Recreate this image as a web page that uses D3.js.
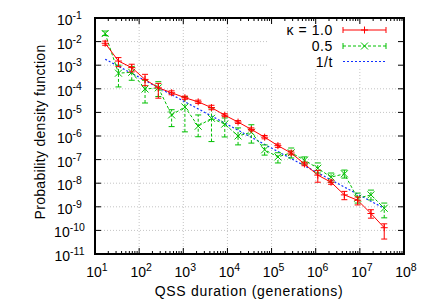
<!DOCTYPE html>
<html>
<head>
<meta charset="utf-8">
<script src="https://cdn.jsdelivr.net/npm/d3@7"></script>
<style>
body { margin: 0; background: #fff; }
text { font-family: "Liberation Sans", Arial, sans-serif; fill: #000; }
</style>
</head>
<body>
<script>
// bin centres (generations)
var times = [17, 34, 68, 136, 272, 544, 1088, 2176, 4352, 8704, 17408, 34816,
  69632, 139264, 278528, 557056, 1114112, 2228224, 4456448, 8912896, 17825792, 35651584];

// kappa = 1.0
var k1 = [8.5e-3, 1.5e-3, 7.9e-4, 2.5e-4, 1.1e-4, 6.8e-5, 4.2e-5, 2.8e-5, 1.6e-5, 7.6e-6, 3.9e-6, 1.9e-6,
  8.9e-7, 3.9e-7, 1.9e-7, 6.5e-8, 2.2e-8, 1.1e-8, 3.2e-9, 1.9e-9, 5.2e-10, 1.3e-10];
var k1Lo = [7.0e-3, 8.7e-4, 5.2e-4, 1.35e-4, 4e-5, 5.6e-5, 3.6e-5, 2.4e-5, 1.3e-5, 6.6e-6, 3.4e-6, 1.65e-6,
  7.6e-7, 3.3e-7, 1.6e-7, 5.5e-8, 1.1e-8, 9e-9, 2.0e-9, 1.2e-9, 3.3e-10, 4.3e-11];
var k1Hi = [1.05e-2, 2.1e-3, 1.1e-3, 4.1e-4, 1.7e-4, 8.2e-5, 4.9e-5, 3.3e-5, 2.0e-5, 8.8e-6, 4.5e-6, 2.2e-6,
  1.05e-6, 4.6e-7, 2.3e-7, 7.7e-8, 3.5e-8, 1.35e-8, 4.5e-9, 2.6e-9, 7.5e-10, 1.9e-10];

// kappa = 0.5
var k05 = [2.2e-2, 4.6e-4, 5e-4, 9.8e-5, 1.1e-4, 7.8e-6, 1.7e-5, 2.6e-6, 5.6e-6, 3.2e-6, 1e-6, 1.45e-6,
  2.6e-7, 1.3e-7, 1.95e-7, 9.5e-8, 4.3e-8, 1.8e-8, 2.5e-8, 2.3e-9, 3.2e-9, 8.7e-10];
var k05Lo = [1.8e-2, 1.2e-4, 2.3e-4, 2.5e-5, 4.7e-5, 2.5e-6, 1.5e-6, 9.3e-7, 5.8e-7, 9.1e-7, 4.2e-7, 5e-7,
  1.55e-7, 7.2e-8, 1.17e-7, 6.5e-8, 2.7e-8, 1.1e-8, 1.65e-8, 1.44e-9, 1.95e-9, 3.4e-10];
var k05Hi = [2.8e-2, 1.0e-3, 8.7e-4, 2.3e-4, 2e-4, 1.3e-5, 4.7e-5, 7.8e-6, 1.55e-5, 5.8e-6, 2.2e-6, 3e-6,
  4.2e-7, 1.95e-7, 3.1e-7, 1.3e-7, 7.2e-8, 2.7e-8, 3.6e-8, 3.8e-9, 5.1e-9, 1.44e-9];

// 1/t guide, end points
var guideT = [17, 35651584];
var guideY = [1.8e-3, 8.6e-10];

var xTicks = [1e1, 1e2, 1e3, 1e4, 1e5, 1e6, 1e7, 1e8];
var xTickExp = ["1", "2", "3", "4", "5", "6", "7", "8"];
var yTicks = [1e-1, 1e-2, 1e-3, 1e-4, 1e-5, 1e-6, 1e-7, 1e-8, 1e-9, 1e-10, 1e-11];
var yTickExp = ["-1", "-2", "-3", "-4", "-5", "-6", "-7", "-8", "-9", "-10", "-11"];
var legendLabels = ["\u03ba = 1.0", "0.5", "1/t"];

var W = 436, H = 305;
var m = {left: 95, right: 32, top: 18, bottom: 51};

var svg = d3.select('body').append('svg')
    .attr('width', W)
    .attr('height', H);

var x = d3.scaleLog().domain([1e1, 1e8]).range([m.left, W - m.right]);
var y = d3.scaleLog().domain([1e-11, 1e-1]).range([H - m.bottom, m.top]);

var red = '#ff0000', green = '#00c000', blue = '#1030ff';

// grid
var grid = svg.append('g');
xTicks.slice(1, -1).forEach(function(t){
    grid.append('line')
        .attr('x1', x(t)).attr('x2', x(t))
        .attr('y1', y.range()[1]).attr('y2', y.range()[0])
        .attr('stroke', '#c4c4c4').attr('stroke-width', 1)
        .attr('stroke-dasharray', '1,2');
});
yTicks.slice(1, -1).forEach(function(t){
    grid.append('line')
        .attr('x1', x.range()[0]).attr('x2', x.range()[1])
        .attr('y1', y(t)).attr('y2', y(t))
        .attr('stroke', '#c4c4c4').attr('stroke-width', 1)
        .attr('stroke-dasharray', '1,2');
});

// opaque key box
svg.append('rect')
    .attr('x', 268).attr('y', m.top)
    .attr('width', x.range()[1] - 268).attr('height', 50)
    .attr('fill', '#fff');

var line = d3.line()
    .x(function(d){ return x(d[0]); })
    .y(function(d){ return y(d[1]); });

// 1/t
svg.append('path')
    .datum(d3.zip(guideT, guideY))
    .attr('d', line)
    .attr('fill', 'none')
    .attr('stroke', blue)
    .attr('stroke-width', 1.2)
    .attr('stroke-dasharray', '2,2');

function series(vals, lo, hi, col, dash, marker){
    var g = svg.append('g');
    g.append('path')
        .datum(d3.zip(times, vals))
        .attr('d', line)
        .attr('fill', 'none')
        .attr('stroke', col)
        .attr('stroke-width', 1)
        .attr('stroke-dasharray', dash);
    times.forEach(function(t, i){
        var cx = x(t);
        g.append('line')
            .attr('x1', cx).attr('x2', cx)
            .attr('y1', y(lo[i])).attr('y2', y(hi[i]))
            .attr('stroke', col).attr('stroke-dasharray', dash);
        [lo[i], hi[i]].forEach(function(v){
            g.append('line')
                .attr('x1', cx - 3).attr('x2', cx + 3)
                .attr('y1', y(v)).attr('y2', y(v))
                .attr('stroke', col);
        });
        marker(g, cx, y(vals[i]), col);
    });
}

function plus(g, cx, cy, col){
    g.append('path')
        .attr('d', 'M' + (cx - 3.5) + ',' + cy + 'H' + (cx + 3.5) + 'M' + cx + ',' + (cy - 3.5) + 'V' + (cy + 3.5))
        .attr('stroke', col).attr('stroke-width', 1);
}
function cross(g, cx, cy, col){
    var r = 3.5;
    g.append('path')
        .attr('d', 'M' + (cx - r) + ',' + (cy - r) + 'L' + (cx + r) + ',' + (cy + r) +
            'M' + (cx - r) + ',' + (cy + r) + 'L' + (cx + r) + ',' + (cy - r))
        .attr('stroke', col).attr('stroke-width', 1);
}

series(k05, k05Lo, k05Hi, green, '3,2', cross);
series(k1, k1Lo, k1Hi, red, null, plus);

// frame
svg.append('rect')
    .attr('x', m.left).attr('y', m.top)
    .attr('width', x.range()[1] - m.left)
    .attr('height', y.range()[0] - m.top)
    .attr('fill', 'none')
    .attr('stroke', '#000')
    .attr('stroke-width', 2);

// ticks on all four sides
var ticks = svg.append('g').attr('stroke', '#000').attr('stroke-width', 1);
var yb = y.range()[0], yt = y.range()[1];
x.ticks().forEach(function(t){
    var major = xTicks.indexOf(t) >= 0;
    var len = major ? 6 : 3;
    ticks.append('line').attr('x1', x(t)).attr('x2', x(t)).attr('y1', yb).attr('y2', yb - len);
    ticks.append('line').attr('x1', x(t)).attr('x2', x(t)).attr('y1', yt).attr('y2', yt + len);
});
yTicks.forEach(function(t){
    ticks.append('line').attr('x1', x.range()[0]).attr('x2', x.range()[0] + 6).attr('y1', y(t)).attr('y2', y(t));
    ticks.append('line').attr('x1', x.range()[1]).attr('x2', x.range()[1] - 6).attr('y1', y(t)).attr('y2', y(t));
});

// tick labels
xTicks.forEach(function(t, i){
    var tx = svg.append('text')
        .attr('x', x(t) + 2).attr('y', yb + 23)
        .attr('text-anchor', 'middle')
        .style('font-size', '14px');
    tx.append('tspan').text('10');
    tx.append('tspan').attr('dy', -6).style('font-size', '10.5px').text(xTickExp[i]);
});
yTicks.forEach(function(t, i){
    var tx = svg.append('text')
        .attr('x', 69.5).attr('y', y(t) + 7)
        .attr('text-anchor', 'middle')
        .style('font-size', '14px');
    tx.append('tspan').text('10');
    tx.append('tspan').attr('dy', -6).style('font-size', '10.5px').text(yTickExp[i]);
});

// axis titles
svg.append('text')
    .attr('x', 249).attr('y', 296)
    .attr('text-anchor', 'middle')
    .style('font-size', '14px')
    .style('letter-spacing', '0.7px')
    .text('QSS duration (generations)');
svg.append('text')
    .attr('transform', 'translate(45,' + 132 + ') rotate(-90)')
    .attr('text-anchor', 'middle')
    .style('font-size', '14px')
    .style('letter-spacing', '0.3px')
    .text('Probability density function');

// key
var keyY = [30, 46, 61.5];
var cols = [red, green, blue];
legendLabels.forEach(function(lab, i){
    svg.append('text')
        .attr('x', 333).attr('y', keyY[i] + 5)
        .attr('text-anchor', 'end')
        .style('font-size', '14px')
        .style('letter-spacing', '0.6px')
        .text(lab);
    svg.append('line')
        .attr('x1', 343).attr('x2', 386)
        .attr('y1', keyY[i]).attr('y2', keyY[i])
        .attr('stroke', cols[i])
        .attr('stroke-width', i == 2 ? 1.2 : 1)
        .attr('stroke-dasharray', i == 0 ? null : (i == 1 ? '3,2' : '2,2'));
});
// key error-bar caps and markers
[343, 386].forEach(function(cx){
    svg.append('line').attr('x1', cx).attr('x2', cx).attr('y1', keyY[0] - 3).attr('y2', keyY[0] + 3).attr('stroke', red);
    svg.append('line').attr('x1', cx).attr('x2', cx).attr('y1', keyY[1] - 3).attr('y2', keyY[1] + 3).attr('stroke', green);
});
plus(svg, 364.5, keyY[0], red);
cross(svg, 364.5, keyY[1], green);
</script>
</body>
</html>
